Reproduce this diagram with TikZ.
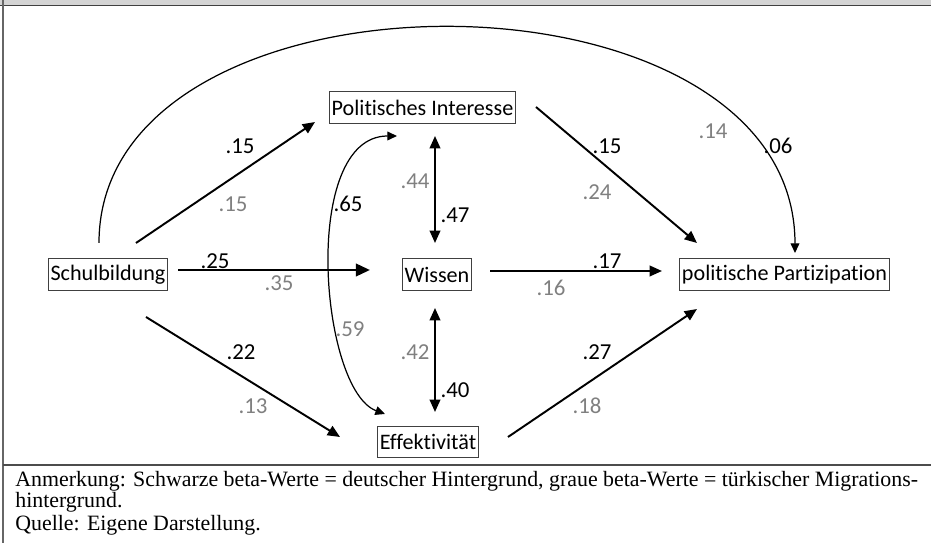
\documentclass[tikz,border=0pt]{standalone}
\usepackage{fontspec}
\setmainfont{Liberation Serif}
\newfontfamily\diafont[Ligatures=NoCommon]{Carlito}
\usetikzlibrary{arrows.meta,calc}

\begin{document}
\begin{tikzpicture}[x=0.02cm, y=-0.02cm,
    var/.style={rectangle, draw=black!75, line width=0.5pt, inner xsep=1.2pt, inner ysep=0pt, minimum height=6.3mm, font=\diafont\fontsize{12.6}{14}\selectfont},
    arr/.style={-{Triangle[length=7pt,width=6pt]}, line width=1.1pt},
    arrthick/.style={-{Triangle[length=8pt,width=7pt]}, line width=1.6pt},
    dbl/.style={{Triangle[length=7pt,width=6pt]}-{Triangle[length=7pt,width=6pt]}, line width=1.1pt},
    curv/.style={#1{Triangle[length=5.5pt,width=5pt]}, line width=0.7pt},
    lblb/.style={font=\diafont\fontsize{13}{15}\selectfont, text=black, inner sep=0pt},
    lblg/.style={font=\diafont\fontsize{13}{15}\selectfont, text=black!50, inner sep=0pt},
    note/.style={anchor=base west, inner sep=0pt, font=\fontsize{12.45}{15}\selectfont}
]
\useasboundingbox (0,0) rectangle (931,543);

% frame
\fill[black!17] (0,0) rectangle (931,5);
\draw[black!75, line width=1pt] (0,5.5) -- (931,5.5);
\draw[black!60, line width=0.6pt] (3,0) -- (3,543);
\draw[black!70, line width=1pt] (3,465) -- (931,465);

% variables
\node[var] (schul) at (108,274.5) {Schulbildung};
\node[var] (pi) at (422.5,107.5) {Politisches Interesse};
\node[var] (wissen) at (437,274.5) {Wissen};
\node[var] (eff) at (428,442) {Effektivität};
\node[var] (pp) at (784.5,274.5) {politische Partizipation};

% paths
\draw[arr] ($(schul)+(28,-31.5)$) -- ($(pi)+(-107.5,14.5)$);
\draw[arrthick] ($(schul)+(70,-4.5)$) -- ($(wissen)+(-67,-4.5)$);
\draw[arr] ($(schul)+(38,42.5)$) -- ($(eff)+(-88,-5)$);
\draw[curv=-] ($(schul)+(-9,-31.5)$) .. controls +(0,-289) and +(0,-299) .. ($(pp)+(10.5,-21.5)$);
\draw[arr] ($(pi)+(113.5,-0.5)$) -- ($(pp)+(-87.5,-31.5)$);
\draw[arr] ($(wissen)+(53,-3.5)$) -- ($(pp)+(-122.5,-3.5)$);
\draw[arr] ($(eff)+(80,-5)$) -- ($(pp)+(-87.5,34.5)$);

% correlations
\draw[dbl] ($(pi)+(12.5,28.5)$) -- ($(wissen)+(-2,-31.5)$);
\draw[dbl] ($(wissen)+(-2,33.5)$) -- ($(eff)+(7,-30)$);
\draw[curv={Triangle[length=5.5pt,width=5pt]}-] ($(pi)+(-25.5,28.5)$) .. controls +(-97,0) and +(-65,-24) .. ($(eff)+(-43,-28)$);

% coefficients
\node[lblb] (b1) at (240,146) {.15};
\node[lblg] (g1) at (233,204) {.15};
\node[lblb] (b2) at (215,261) {.25};
\node[lblg] (g2) at (279,283) {.35};
\node[lblb] (b3) at (241,352) {.22};
\node[lblg] (g3) at (253,406) {.13};
\node[lblg] (g4) at (713,131) {.14};
\node[lblb] (b4) at (778,146) {.06};
\node[lblb] (b5) at (607,146) {.15};
\node[lblg] (g5) at (597,192) {.24};
\node[lblb] (b6) at (607,261) {.17};
\node[lblg] (g6) at (551,288) {.16};
\node[lblb] (b7) at (597,352) {.27};
\node[lblg] (g7) at (587,406) {.18};
\node[lblg] (g8) at (415,181) {.44};
\node[lblb] (b8) at (455,215) {.47};
\node[lblg] (g9) at (415,352) {.42};
\node[lblb] (b9) at (455,390) {.40};
\node[lblb] (b10) at (348,204) {.65};
\node[lblg] (g10) at (350,329) {.59};

% note
\node[note] (note1) at (15,487) {Anmerkung: Schwarze beta-Werte = deutscher Hintergrund, graue beta-Werte = türkischer Migrations-};
\node[note] (note2) at (15,508) {hintergrund.};
\node[note] (note3) at (15,531) {Quelle: Eigene Darstellung.};
\end{tikzpicture}
\end{document}
